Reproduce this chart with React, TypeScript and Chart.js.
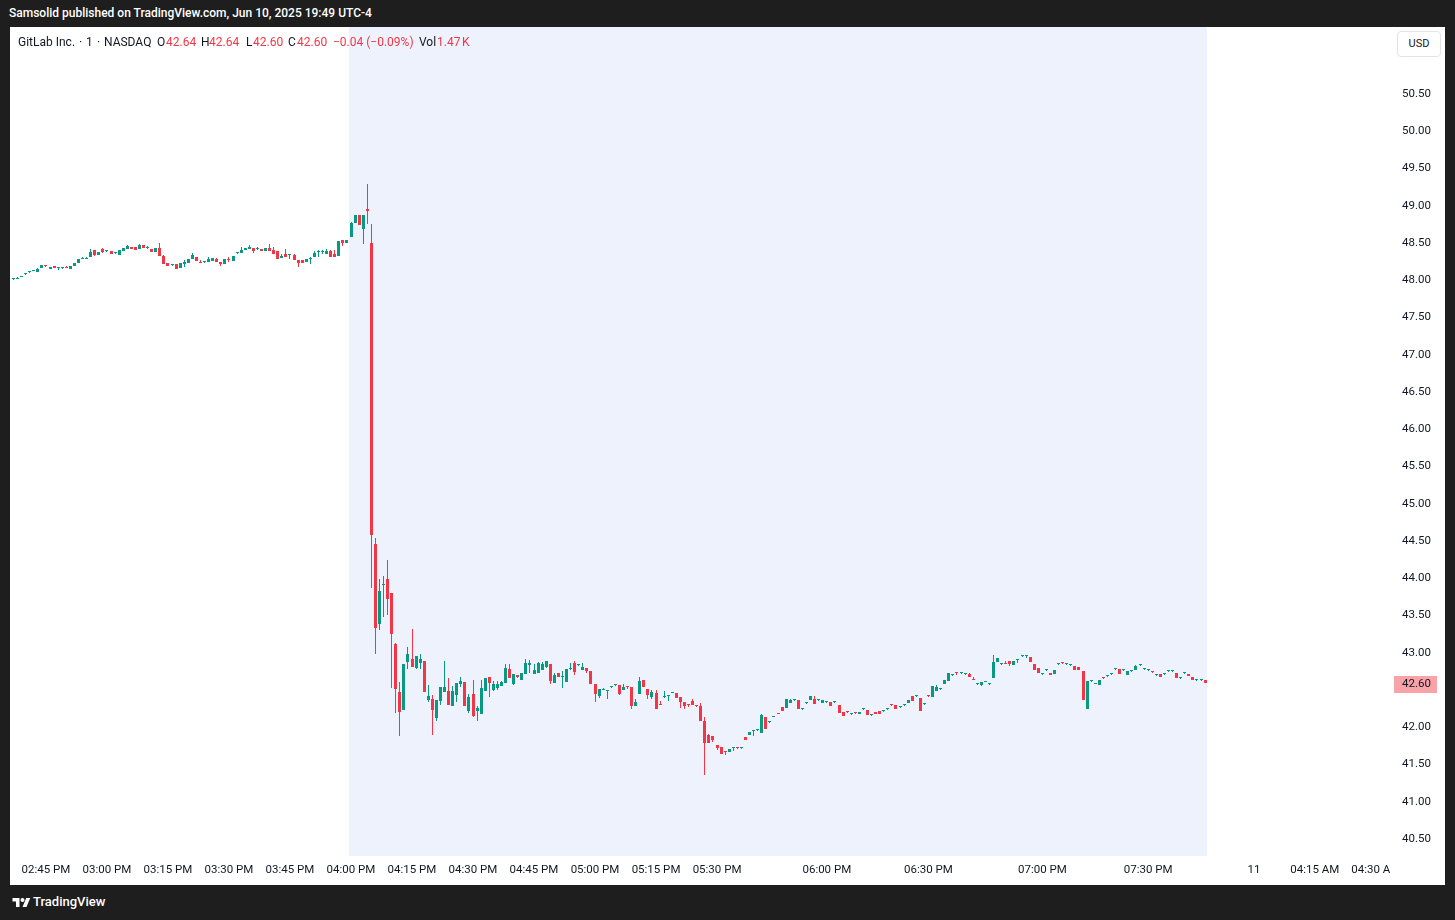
import React, { useEffect, useRef } from 'react';
import { Chart, registerables } from 'chart.js';

Chart.register(...registerables);

// ---- Data: 1-minute bars, GitLab Inc. (NASDAQ), Jun 10 2025, 02:37 PM .. post-market ----
const opens = [
  48.01, 48.02, 48.05, 48.09, 48.11, 48.12, 48.11, 48.17, 48.20, 48.15,
  48.195, 48.165, 48.17, 48.172, 48.15, 48.19, 48.23, 48.29, 48.29, 48.31,
  48.40, 48.337, 48.423, 48.39, 48.387, 48.36, 48.337, 48.396, 48.418, 48.45,
  48.44, 48.418, 48.476, 48.427, 48.414, 48.378, 48.427, 48.32, 48.234, 48.199,
  48.212, 48.158, 48.221, 48.225, 48.279, 48.315, 48.242, 48.24, 48.243, 48.257,
  48.279, 48.239, 48.221, 48.28, 48.257, 48.37, 48.36, 48.40, 48.418, 48.427,
  48.42, 48.414, 48.391, 48.427, 48.40, 48.387, 48.297, 48.346, 48.34, 48.333,
  48.275, 48.266, 48.243, 48.284, 48.306, 48.376, 48.376, 48.351, 48.387, 48.355,
  48.324, 48.544, 48.499, 48.586, 48.771, 48.869, 48.69, 48.96, 48.494, 44.46,
  43.39, 43.91, 43.987, 43.802, 43.12, 42.47, 42.233, 42.881, 42.912, 42.79,
  42.866, 42.883, 42.37, 42.378, 42.13, 42.355, 42.478, 42.483, 42.292, 42.438,
  42.585, 42.603, 42.217, 42.446, 42.222, 42.181, 42.482, 42.674, 42.495, 42.527,
  42.549, 42.589, 42.782, 42.585, 42.697, 42.638, 42.72, 42.835, 42.72, 42.733,
  42.773, 42.813, 42.845, 42.598, 42.724, 42.668, 42.612, 42.777, 42.862, 42.835,
  42.773, 42.791, 42.75, 42.576, 42.414, 42.503, 42.48, 42.535, 42.562, 42.562,
  42.504, 42.549, 42.535, 42.289, 42.45, 42.629, 42.508, 42.401, 42.46, 42.295,
  42.41, 42.414, 42.46, 42.455, 42.401, 42.338, 42.295, 42.35, 42.292, 42.281,
  42.084, 41.895, 41.877, 41.756, 41.738, 41.675, 41.662, 41.716, 41.722, 41.716,
  41.864, 41.90, 41.949, 41.958, 41.927, 42.133, 42.07, 42.138, 42.184, 42.271,
  42.263, 42.33, 42.362, 42.362, 42.24, 42.325, 42.37, 42.375, 42.362, 42.33,
  42.334, 42.334, 42.334, 42.294, 42.20, 42.202, 42.178, 42.192, 42.182, 42.24,
  42.227, 42.16, 42.205, 42.218, 42.214, 42.24, 42.296, 42.294, 42.276, 42.294,
  42.33, 42.415, 42.415, 42.388, 42.312, 42.417, 42.411, 42.492, 42.509, 42.576,
  42.626, 42.697, 42.726, 42.724, 42.711, 42.715, 42.632, 42.577, 42.572, 42.603,
  42.577, 42.666, 42.881, 42.845, 42.847, 42.886, 42.84, 42.90, 42.953, 42.953,
  42.944, 42.845, 42.792, 42.711, 42.765, 42.729, 42.72, 42.845, 42.861, 42.845,
  42.832, 42.818, 42.805, 42.751, 42.249, 42.617, 42.58, 42.572, 42.659, 42.684,
  42.711, 42.778, 42.778, 42.765, 42.706, 42.751, 42.774, 42.832, 42.778, 42.765,
  42.74, 42.697, 42.715, 42.711, 42.751, 42.751, 42.724, 42.657, 42.724, 42.711,
  42.67, 42.64, 42.64, 42.64,
];

const highs = [
  48.035, 48.04, 48.06, 48.09, 48.11, 48.135, 48.16, 48.21, 48.20, 48.18,
  48.195, 48.17, 48.17, 48.195, 48.195, 48.235, 48.29, 48.31, 48.31, 48.414,
  48.405, 48.385, 48.43, 48.405, 48.387, 48.36, 48.40, 48.432, 48.47, 48.45,
  48.44, 48.48, 48.476, 48.455, 48.414, 48.427, 48.494, 48.342, 48.234, 48.21,
  48.212, 48.23, 48.266, 48.279, 48.36, 48.315, 48.275, 48.24, 48.315, 48.293,
  48.302, 48.239, 48.279, 48.31, 48.329, 48.37, 48.44, 48.436, 48.476, 48.427,
  48.45, 48.414, 48.427, 48.481, 48.45, 48.387, 48.355, 48.423, 48.345, 48.355,
  48.275, 48.266, 48.284, 48.311, 48.396, 48.40, 48.40, 48.423, 48.409, 48.409,
  48.53, 48.544, 48.544, 48.78, 48.869, 48.869, 48.869, 49.286, 48.751, 44.54,
  43.99, 44.03, 44.24, 43.802, 43.133, 42.608, 42.855, 43.077, 43.318, 42.953,
  42.984, 42.883, 42.567, 42.429, 42.372, 42.54, 42.888, 42.66, 42.552, 42.59,
  42.67, 42.603, 42.446, 42.634, 42.28, 42.634, 42.656, 42.674, 42.62, 42.62,
  42.62, 42.849, 42.849, 42.72, 42.697, 42.728, 42.912, 42.903, 42.849, 42.88,
  42.871, 42.885, 42.845, 42.728, 42.724, 42.75, 42.777, 42.862, 42.89, 42.835,
  42.858, 42.791, 42.75, 42.576, 42.508, 42.531, 42.482, 42.535, 42.562, 42.562,
  42.576, 42.549, 42.535, 42.374, 42.674, 42.629, 42.508, 42.50, 42.50, 42.35,
  42.487, 42.414, 42.473, 42.455, 42.401, 42.338, 42.295, 42.374, 42.292, 42.32,
  42.137, 41.904, 41.877, 41.756, 41.738, 41.675, 41.707, 41.716, 41.722, 41.716,
  41.864, 41.936, 41.95, 41.965, 42.178, 42.133, 42.07, 42.15, 42.195, 42.271,
  42.375, 42.384, 42.362, 42.362, 42.24, 42.325, 42.415, 42.42, 42.362, 42.366,
  42.334, 42.334, 42.334, 42.294, 42.209, 42.202, 42.178, 42.192, 42.205, 42.24,
  42.227, 42.16, 42.205, 42.218, 42.214, 42.24, 42.296, 42.294, 42.276, 42.294,
  42.362, 42.415, 42.415, 42.388, 42.312, 42.417, 42.554, 42.572, 42.509, 42.635,
  42.724, 42.697, 42.726, 42.724, 42.711, 42.728, 42.675, 42.577, 42.603, 42.62,
  42.577, 42.971, 42.926, 42.845, 42.89, 42.886, 42.886, 42.90, 42.953, 42.953,
  42.944, 42.845, 42.792, 42.711, 42.765, 42.729, 42.765, 42.845, 42.861, 42.845,
  42.832, 42.818, 42.805, 42.751, 42.617, 42.617, 42.60, 42.635, 42.659, 42.684,
  42.711, 42.778, 42.778, 42.765, 42.751, 42.751, 42.836, 42.832, 42.778, 42.765,
  42.74, 42.697, 42.715, 42.711, 42.751, 42.751, 42.724, 42.657, 42.724, 42.711,
  42.67, 42.64, 42.64, 42.64,
];

const lows = [
  48.005, 48.01, 48.04, 48.09, 48.11, 48.12, 48.11, 48.16, 48.18, 48.15,
  48.16, 48.14, 48.17, 48.165, 48.15, 48.19, 48.23, 48.285, 48.29, 48.31,
  48.33, 48.335, 48.37, 48.385, 48.355, 48.36, 48.337, 48.396, 48.418, 48.418,
  48.405, 48.418, 48.432, 48.42, 48.378, 48.378, 48.324, 48.216, 48.194, 48.19,
  48.149, 48.158, 48.176, 48.225, 48.279, 48.257, 48.238, 48.24, 48.243, 48.257,
  48.243, 48.19, 48.221, 48.243, 48.257, 48.37, 48.36, 48.40, 48.418, 48.364,
  48.40, 48.387, 48.391, 48.391, 48.355, 48.284, 48.297, 48.311, 48.279, 48.275,
  48.176, 48.234, 48.243, 48.221, 48.306, 48.315, 48.35, 48.351, 48.311, 48.311,
  48.324, 48.463, 48.499, 48.586, 48.771, 48.74, 48.488, 48.756, 43.87, 42.984,
  43.303, 43.483, 43.509, 42.532, 42.197, 41.883, 42.233, 42.788, 42.804, 42.78,
  42.788, 42.478, 42.336, 41.899, 42.09, 42.30, 42.478, 42.303, 42.292, 42.337,
  42.545, 42.29, 42.19, 42.14, 42.087, 42.181, 42.482, 42.41, 42.49, 42.50,
  42.549, 42.589, 42.656, 42.567, 42.665, 42.638, 42.72, 42.724, 42.72, 42.733,
  42.773, 42.80, 42.58, 42.598, 42.679, 42.53, 42.612, 42.764, 42.697, 42.835,
  42.773, 42.733, 42.576, 42.343, 42.388, 42.503, 42.383, 42.535, 42.562, 42.432,
  42.504, 42.52, 42.24, 42.289, 42.45, 42.544, 42.383, 42.383, 42.249, 42.293,
  42.388, 42.347, 42.46, 42.388, 42.262, 42.249, 42.27, 42.293, 42.29, 42.084,
  41.362, 41.783, 41.796, 41.689, 41.635, 41.622, 41.662, 41.68, 41.72, 41.716,
  41.824, 41.90, 41.877, 41.95, 41.927, 41.98, 42.07, 42.138, 42.182, 42.222,
  42.263, 42.33, 42.362, 42.249, 42.24, 42.325, 42.37, 42.317, 42.362, 42.33,
  42.334, 42.29, 42.334, 42.187, 42.146, 42.20, 42.178, 42.19, 42.182, 42.24,
  42.168, 42.16, 42.182, 42.182, 42.214, 42.24, 42.294, 42.249, 42.276, 42.294,
  42.33, 42.352, 42.415, 42.222, 42.312, 42.415, 42.411, 42.492, 42.509, 42.576,
  42.626, 42.697, 42.706, 42.724, 42.711, 42.68, 42.63, 42.577, 42.559, 42.603,
  42.577, 42.666, 42.881, 42.845, 42.845, 42.823, 42.84, 42.864, 42.953, 42.93,
  42.881, 42.774, 42.724, 42.711, 42.765, 42.697, 42.72, 42.845, 42.859, 42.845,
  42.832, 42.774, 42.774, 42.37, 42.249, 42.617, 42.58, 42.572, 42.657, 42.684,
  42.711, 42.778, 42.72, 42.765, 42.706, 42.751, 42.774, 42.832, 42.778, 42.765,
  42.738, 42.697, 42.68, 42.711, 42.751, 42.751, 42.657, 42.657, 42.724, 42.684,
  42.639, 42.64, 42.64, 42.60,
];

const closes = [
  48.03, 48.025, 48.052, 48.09, 48.11, 48.122, 48.155, 48.20, 48.195, 48.18,
  48.16, 48.17, 48.17, 48.168, 48.195, 48.235, 48.29, 48.295, 48.295, 48.373,
  48.337, 48.378, 48.378, 48.392, 48.355, 48.36, 48.40, 48.432, 48.458, 48.418,
  48.41, 48.476, 48.432, 48.43, 48.378, 48.427, 48.324, 48.216, 48.194, 48.20,
  48.149, 48.23, 48.248, 48.279, 48.337, 48.257, 48.238, 48.24, 48.279, 48.293,
  48.243, 48.216, 48.279, 48.278, 48.329, 48.37, 48.40, 48.436, 48.445, 48.391,
  48.423, 48.387, 48.427, 48.391, 48.355, 48.284, 48.32, 48.311, 48.342, 48.275,
  48.234, 48.234, 48.284, 48.286, 48.369, 48.378, 48.378, 48.391, 48.311, 48.311,
  48.53, 48.499, 48.544, 48.771, 48.869, 48.74, 48.869, 48.93, 44.574, 43.329,
  43.828, 43.912, 43.725, 43.257, 42.516, 42.21, 42.855, 42.979, 42.804, 42.953,
  42.918, 42.478, 42.414, 42.237, 42.372, 42.54, 42.54, 42.303, 42.483, 42.59,
  42.62, 42.29, 42.406, 42.146, 42.258, 42.522, 42.656, 42.598, 42.58, 42.58,
  42.612, 42.795, 42.656, 42.72, 42.674, 42.728, 42.862, 42.862, 42.768, 42.862,
  42.849, 42.885, 42.625, 42.697, 42.679, 42.67, 42.777, 42.78, 42.746, 42.835,
  42.813, 42.76, 42.576, 42.441, 42.508, 42.505, 42.482, 42.535, 42.562, 42.45,
  42.535, 42.545, 42.289, 42.338, 42.62, 42.544, 42.428, 42.473, 42.249, 42.293,
  42.41, 42.414, 42.46, 42.388, 42.334, 42.28, 42.293, 42.293, 42.29, 42.084,
  41.79, 41.783, 41.823, 41.716, 41.635, 41.672, 41.707, 41.716, 41.72, 41.716,
  41.824, 41.936, 41.95, 41.958, 42.164, 41.98, 42.07, 42.138, 42.182, 42.222,
  42.375, 42.366, 42.362, 42.249, 42.24, 42.325, 42.415, 42.317, 42.362, 42.366,
  42.334, 42.29, 42.334, 42.187, 42.146, 42.20, 42.178, 42.19, 42.205, 42.24,
  42.168, 42.16, 42.182, 42.182, 42.214, 42.24, 42.294, 42.249, 42.276, 42.294,
  42.362, 42.352, 42.415, 42.222, 42.312, 42.415, 42.554, 42.545, 42.509, 42.635,
  42.724, 42.697, 42.724, 42.724, 42.711, 42.68, 42.63, 42.577, 42.603, 42.603,
  42.577, 42.877, 42.926, 42.845, 42.845, 42.85, 42.886, 42.90, 42.953, 42.953,
  42.881, 42.774, 42.724, 42.711, 42.765, 42.697, 42.765, 42.845, 42.859, 42.845,
  42.832, 42.774, 42.774, 42.37, 42.617, 42.617, 42.60, 42.635, 42.657, 42.684,
  42.711, 42.778, 42.72, 42.765, 42.751, 42.751, 42.823, 42.832, 42.778, 42.765,
  42.738, 42.697, 42.68, 42.711, 42.751, 42.751, 42.657, 42.657, 42.724, 42.684,
  42.639, 42.64, 42.64, 42.60,
];

const lastVolume = '1.47\u202FK';
const symbolTitle = 'GitLab Inc.';
const symbolInterval = '1';
const symbolExchange = 'NASDAQ';

// bar index at which each time-axis label sits, and the label text
const timeTickBars = [8, 23, 38, 53, 68, 83, 98, 113, 128, 143, 158, 173, 200, 225, 253, 279, 305, 320, 335];
const timeTickLabels = [
  '02:45 PM', '03:00 PM', '03:15 PM', '03:30 PM', '03:45 PM', '04:00 PM', '04:15 PM', '04:30 PM',
  '04:45 PM', '05:00 PM', '05:15 PM', '05:30 PM', '06:00 PM', '06:30 PM', '07:00 PM', '07:30 PM',
  '11', '04:15 AM', '04:30 AM',
];
const priceTicks = [40.5, 41, 41.5, 42, 42.5, 43, 43.5, 44, 44.5, 45, 45.5, 46, 46.5, 47, 47.5, 48, 48.5, 49, 49.5, 50, 50.5];
const postMarketFirstBar = 83;

const UP = '#089981';
const DOWN = '#f23645';
const FONT = 'Roboto, "Noto Sans", sans-serif';

const shadePlugin = {
  id: 'postMarketShade',
  beforeDatasetsDraw(chart: any) {
    const { ctx, chartArea, scales } = chart;
    const x0 = Math.round(scales.x.getPixelForValue(postMarketFirstBar - 0.5));
    const x1 = Math.round(scales.x.getPixelForValue(closes.length - 0.5));
    ctx.save();
    ctx.fillStyle = '#eef2fd';
    ctx.fillRect(x0, chartArea.top, x1 - x0, chartArea.bottom - chartArea.top);
    ctx.restore();
    // snap candle elements to the device pixel grid (crisp like TradingView)
    chart.data.datasets.forEach((_: any, di: number) => {
      const meta = chart.getDatasetMeta(di);
      meta.data.forEach((el: any) => {
        el.x = Math.floor(el.x) + 0.5;
        const top = Math.round(Math.min(el.y, el.base));
        let bottom = Math.round(Math.max(el.y, el.base));
        if (bottom - top < 1) bottom = top + 1;
        el.y = top;
        el.base = bottom;
      });
    });
  },
};

const overlayPlugin = {
  id: 'tvOverlay',
  afterDraw(chart: any) {
    const { ctx, chartArea, scales, width, height } = chart;
    ctx.save();
    // time axis is clipped at the price scale
    ctx.fillStyle = '#ffffff';
    ctx.fillRect(chartArea.right, chartArea.bottom, width - chartArea.right, height - chartArea.bottom);
    // last price label
    const last = closes[closes.length - 1];
    const y = scales.y.getPixelForValue(last);
    ctx.fillStyle = '#f7a3a8';
    ctx.fillRect(chartArea.right + 4, Math.round(y - 7), 43, 17);
    ctx.fillStyle = '#131722';
    ctx.font = `11.5px ${FONT}`;
    ctx.textBaseline = 'middle';
    ctx.textAlign = 'left';
    ctx.fillText(last.toFixed(2), chartArea.right + 12, y + 1.5);
    ctx.restore();
  },
};

export default function App() {
  const canvasRef = useRef<HTMLCanvasElement | null>(null);

  useEffect(() => {
    const canvas = canvasRef.current;
    if (!canvas) return;
    const idx = closes.map((_, i) => i);
    const colors = idx.map((i) => (closes[i] >= opens[i] ? UP : DOWN));
    const chart = new Chart(canvas, {
      type: 'bar',
      data: {
        datasets: [
          {
            label: 'body',
            data: idx.map((i) => ({ x: i, y: [opens[i], closes[i]] })) as any,
            backgroundColor: colors,
            borderWidth: 0,
            barThickness: 3,
            minBarLength: 1,
            grouped: false,
            inflateAmount: 0,
            order: 0,
          } as any,
          {
            label: 'wick',
            data: idx.map((i) => ({ x: i, y: [lows[i], highs[i]] })) as any,
            backgroundColor: colors,
            borderWidth: 0,
            barThickness: 1,
            grouped: false,
            inflateAmount: 0,
            order: 1,
          } as any,
        ],
      },
      options: {
        responsive: false,
        maintainAspectRatio: false,
        animation: false,
        events: [],
        layout: { padding: 0 },
        plugins: { legend: { display: false }, tooltip: { enabled: false } },
        scales: {
          x: {
            type: 'linear',
            min: -0.6,
            max: 338.47,
            bounds: 'data',
            offset: false,
            grid: { display: false, drawTicks: false },
            border: { display: false },
            ticks: {
              autoSkip: false,
              maxRotation: 0,
              minRotation: 0,
              padding: 7,
              color: '#131722',
              font: { family: FONT, size: 11.5 },
              callback: (v: any) => {
                const k = timeTickBars.indexOf(Number(v));
                return k >= 0 ? timeTickLabels[k] : '';
              },
            },
            afterBuildTicks: (s: any) => {
              s.ticks = timeTickBars.map((v) => ({ value: v }));
            },
            afterFit: (s: any) => {
              s.height = 29;
              s.paddingLeft = 0;
              s.paddingRight = 0;
            },
          },
          y: {
            type: 'linear',
            position: 'right',
            min: 40.272,
            max: 51.399,
            bounds: 'data',
            grid: { display: false, drawTicks: false },
            border: { display: false },
            ticks: {
              padding: 12,
              color: '#131722',
              font: { family: FONT, size: 11.5 },
              callback: (v: any) => Number(v).toFixed(2),
            },
            afterBuildTicks: (s: any) => {
              s.ticks = priceTicks.map((v) => ({ value: v }));
            },
            afterFit: (s: any) => {
              s.width = 55;
              s.paddingTop = 0;
              s.paddingBottom = 0;
            },
          },
        },
      } as any,
      plugins: [shadePlugin, overlayPlugin],
    });
    return () => chart.destroy();
  }, []);

  const n = closes.length;
  const chg = closes[n - 1] - closes[n - 2];
  const pct = (chg / closes[n - 2]) * 100;
  const sgn = (v: number) => (v < 0 ? '\u2212' : '+');
  const chgText = `${sgn(chg)}${Math.abs(chg).toFixed(2)} (${sgn(pct)}${Math.abs(pct).toFixed(2)}%)`;

  const dark = '#131722';
  const red = DOWN;
  const legendTokens: [string, number, string][] = [
    [symbolTitle, 18, dark],
    ['\u00b7', 79, dark],
    [symbolInterval, 86, dark],
    ['\u00b7', 97, dark],
    [symbolExchange, 104, dark],
    ['O', 157, dark],
    [opens[n - 1].toFixed(2), 166, red],
    ['H', 201, dark],
    [highs[n - 1].toFixed(2), 209, red],
    ['L', 246, dark],
    [lows[n - 1].toFixed(2), 253, red],
    ['C', 288, dark],
    [closes[n - 1].toFixed(2), 297, red],
    [chgText, 333, red],
    ['Vol', 419, dark],
    [lastVolume, 437, red],
  ];

  return (
    <div
      style={{
        position: 'fixed',
        left: 0,
        top: 0,
        width: 1455,
        height: 920,
        background: '#1e1e1e',
        overflow: 'hidden',
        fontFamily: FONT,
      }}
    >
      <div
        style={{
          position: 'absolute',
          left: 9,
          top: 5,
          color: '#ffffff',
          fontSize: 12,
          fontWeight: 500,
          lineHeight: '16px',
          whiteSpace: 'nowrap',
        }}
      >
        Samsolid published on TradingView.com, Jun 10, 2025 19:49 UTC-4
      </div>
      <div style={{ position: 'absolute', left: 10, top: 27, width: 1435, height: 858, background: '#ffffff' }} />
      <canvas
        ref={canvasRef}
        width={1434}
        height={858}
        style={{ position: 'absolute', left: 11, top: 27, width: 1434, height: 858 }}
      />
      {legendTokens.map(([t, x, c], i) => (
        <div
          key={i}
          style={{
            position: 'absolute',
            left: x,
            top: 34,
            fontSize: 12,
            lineHeight: '16px',
            color: c,
            whiteSpace: 'nowrap',
            pointerEvents: 'none',
          }}
        >
          {t}
        </div>
      ))}
      <div
        style={{
          position: 'absolute',
          left: 1397,
          top: 31,
          width: 44,
          height: 26,
          boxSizing: 'border-box',
          border: '1px solid #e0e3eb',
          borderRadius: 4,
          fontSize: 11,
          lineHeight: '24px',
          textAlign: 'center',
          color: dark,
          background: '#ffffff',
        }}
      >
        USD
      </div>
      <svg style={{ position: 'absolute', left: 12, top: 896 }} width={19} height={14} viewBox="0 0 36 28">
        <path d="M14 22H7V11H0V4h14v18z" fill="#ffffff" />
        <path d="M28 22h-8l7.5-18h8L28 22z" fill="#ffffff" />
        <circle cx="20" cy="8" r="4" fill="#ffffff" />
      </svg>
      <div
        style={{
          position: 'absolute',
          left: 33,
          top: 894,
          color: '#ffffff',
          fontSize: 13,
          fontWeight: 500,
          lineHeight: '16px',
          whiteSpace: 'nowrap',
        }}
      >
        TradingView
      </div>
    </div>
  );
}
